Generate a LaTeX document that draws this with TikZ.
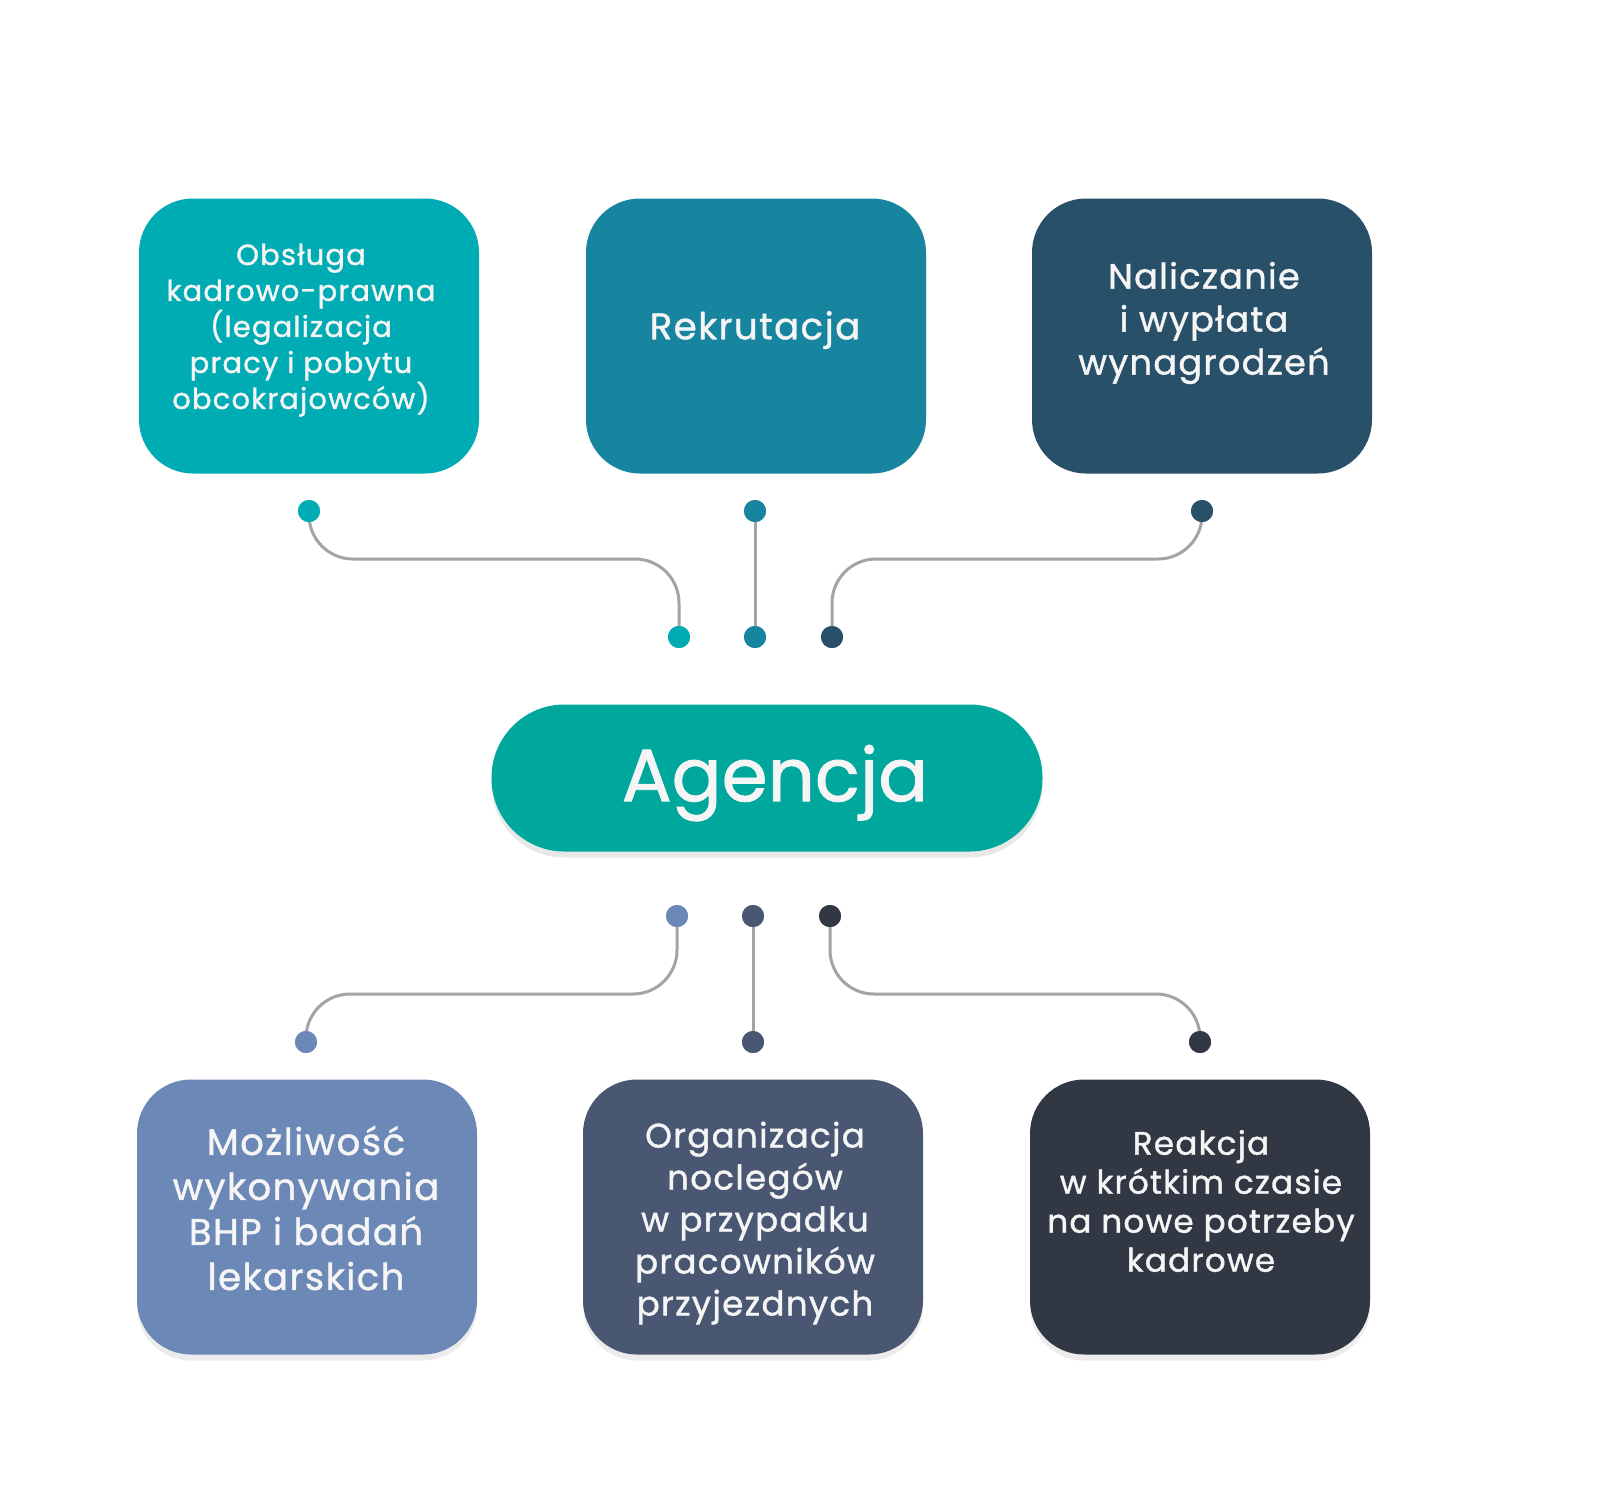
\documentclass[tikz,border=0pt]{standalone}
\usepackage{fontspec}
\setmainfont{Poppins}[LetterSpace=4, BoldFont=Poppins, BoldFeatures={FakeBold=1.2}]
\newfontfamily\agfont{Poppins}[BoldFont=Poppins, BoldFeatures={FakeBold=1.2}]
\usetikzlibrary{shadows}
\definecolor{cA}{HTML}{00ACB4}
\definecolor{cB}{HTML}{1785A0}
\definecolor{cC}{HTML}{285069}
\definecolor{cAg}{HTML}{00A79D}
\definecolor{cD}{HTML}{6B88B6}
\definecolor{cE}{HTML}{4A5773}
\definecolor{cF}{HTML}{313843}
\definecolor{lineg}{HTML}{A3A3A8}
\definecolor{txt}{HTML}{F5F5F5}
\tikzset{
  box/.style={rounded corners=54pt, minimum width=340pt, minimum height=275pt, inner sep=0pt, draw=none},
  boxs/.style={box, drop shadow={opacity=0.15, shadow xshift=0pt, shadow yshift=-6pt}},
  btext/.style={text=txt, align=center, inner sep=0pt},
  dot/.style={circle, minimum size=22pt, inner sep=0pt, draw=none},
  conn/.style={draw=lineg, line width=3pt, rounded corners=44pt},
}
\begin{document}
\begin{tikzpicture}[x=1pt,y=-1pt]
\useasboundingbox[fill=white] (0,0) rectangle (1600,1500);
% top boxes
\node[box, fill=cA] (b1) at (309,336) {};
\node[box, fill=cB] (b2) at (756,336) {};
\node[box, fill=cC] (b3) at (1202,336) {};
\node[btext, font=\bfseries\fontsize{29}{36}\selectfont] (t1) at (301,330) {Obsługa\\kadrowo-prawna\\(legalizacja\\pracy i pobytu\\obcokrajowców)};
\node[btext, font=\bfseries\fontsize{37}{43}\selectfont] (t2) at (755,330) {Rekrutacja};
\node[btext, font=\bfseries\fontsize{35}{43}\selectfont] (t3) at (1204,323) {Naliczanie\\i wypłata\\wynagrodzeń};
% central
\node[rounded corners=73pt, minimum width=551pt, minimum height=147pt, inner sep=0pt, fill=cAg,
      drop shadow={opacity=0.18, shadow xshift=0pt, shadow yshift=-6pt}] (ag) at (767,778) {};
\node[btext, font=\agfont\bfseries\fontsize{74}{80}\selectfont] (agt) at (775,783) {Agencja};
% bottom boxes
\node[boxs, fill=cD] (b4) at (307,1217) {};
\node[boxs, fill=cE] (b5) at (753,1217) {};
\node[boxs, fill=cF] (b6) at (1200,1217) {};
\node[btext, font=\bfseries\fontsize{37}{45}\selectfont] (t4) at (306,1208) {Możliwość\\wykonywania\\BHP i badań\\lekarskich};
\node[btext, font=\bfseries\fontsize{34}{42}\selectfont] (t5) at (755,1223) {Organizacja\\noclegów\\w przypadku\\pracowników\\przyjezdnych};
\node[btext, font=\bfseries\fontsize{32.5}{39}\selectfont] (t6) at (1201,1201) {Reakcja\\w krótkim czasie\\na nowe potrzeby\\kadrowe};
% dots
\node[dot, fill=cA] (d1) at (309,511) {};
\node[dot, fill=cB] (d2) at (755,511) {};
\node[dot, fill=cC] (d3) at (1202,511) {};
\node[dot, fill=cA] (e1) at (679,637) {};
\node[dot, fill=cB] (e2) at (755,637) {};
\node[dot, fill=cC] (e3) at (832,637) {};
\node[dot, fill=cD] (f1) at (677,916) {};
\node[dot, fill=cE] (f2) at (753,916) {};
\node[dot, fill=cF] (f3) at (830,916) {};
\node[dot, fill=cD] (g1) at (306,1042) {};
\node[dot, fill=cE] (g2) at (753,1042) {};
\node[dot, fill=cF] (g3) at (1200,1042) {};
% connectors
\path[conn] (d1.center) -- (d1.center |- 0,559) -- (e1.center |- 0,559) -- (e1.center);
\path[conn] (d2.center) -- (e2.center);
\path[conn] (d3.center) -- (d3.center |- 0,559) -- (e3.center |- 0,559) -- (e3.center);
\path[conn] (f1.center) -- (f1.center |- 0,994) -- (g1.center |- 0,994) -- (g1.center);
\path[conn] (f2.center) -- (g2.center);
\path[conn] (f3.center) -- (f3.center |- 0,994) -- (g3.center |- 0,994) -- (g3.center);
% dots on top of connectors
\foreach \n/\c in {d1/cA,d2/cB,d3/cC,e1/cA,e2/cB,e3/cC,f1/cD,f2/cE,f3/cF,g1/cD,g2/cE,g3/cF}{
  \fill[\c] (\n.center) circle (11pt);
}
\end{tikzpicture}
\end{document}
